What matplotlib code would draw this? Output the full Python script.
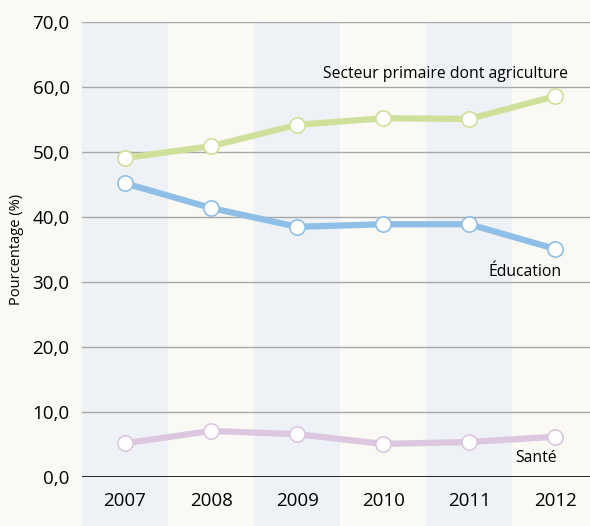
import numpy as np
import matplotlib.pyplot as plt

plt.rcParams['font.family'] = ['Open Sans', 'DejaVu Sans']

years = ["2007", "2008", "2009", "2010", "2011", "2012"]
agriculture = [49.1, 50.9, 54.2, 55.2, 55.1, 58.6]
education = [45.2, 41.4, 38.5, 38.9, 38.9, 35.1]
sante = [5.2, 7.1, 6.6, 5.1, 5.4, 6.2]
yticks = [0, 10, 20, 30, 40, 50, 60, 70]

bg = "#faf9f4"
band = "#eef2f6"

fig = plt.figure(figsize=(5.9, 5.26), dpi=100, facecolor=bg)
# axes run slightly past the right edge of the figure, as in the source
ax = fig.add_axes([0.139, 0.093, 0.875, 0.865])
ax.set_facecolor(bg)

x = np.arange(len(years))
for i in x[::2]:
    ax.axvspan(i - 0.5, i + 0.5, ymin=-0.11, ymax=1, color=band, lw=0,
               clip_on=False, zorder=0)

for t in yticks[1:]:
    ax.axhline(t, color="#a8a8a8", lw=1, zorder=1)
ax.axhline(0, color="black", lw=1.2, zorder=1)

series = [
    (agriculture, "#cfe09a"),
    (education, "#8fbfe6"),
    (sante, "#dcc6e0"),
]
for vals, col in series:
    ax.plot(x, vals, color=col, lw=4.5, marker="o", ms=11,
            mfc="white", mec=col, mew=1.2, zorder=3, clip_on=False)

ax.text(3.73, 62.0, "Secteur primaire dont agriculture", ha="center",
        va="center", fontsize=11.3)
ax.text(5.08, 31.5, "Éducation", ha="right", va="center", fontsize=11.3)
ax.text(5.02, 2.9, "Santé", ha="right", va="center", fontsize=11.3)

ax.set_xlim(-0.5, 5.5)
ax.set_ylim(0, 70)
ax.set_xticks(x)
ax.set_xticklabels(years, fontsize=13.5)
ax.set_yticks(yticks)
ax.set_yticklabels([f"{t},0" for t in yticks], fontsize=13.5)
ax.tick_params(length=0, pad=9)
ax.tick_params(axis="x", pad=11)
ax.set_ylabel("Pourcentage (%)", fontsize=10.5, labelpad=6)
for s in ax.spines.values():
    s.set_visible(False)

fig.savefig("out.png", dpi=100, facecolor=bg)
